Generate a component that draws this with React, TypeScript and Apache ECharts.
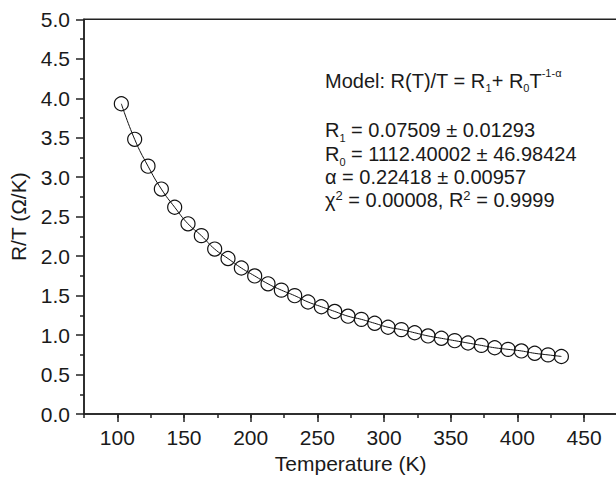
import React, { useEffect, useRef } from "react";
import * as echarts from "echarts";

const temperatures = [
  103, 113, 123, 133, 143, 153, 163, 173, 183, 193, 203, 213, 223, 233, 243, 253, 263,
  273, 283, 293, 303, 313, 323, 333, 343, 353, 363, 373, 383, 393, 403, 413, 423, 433,
];
const rOverT = [
  3.93, 3.48, 3.14, 2.85, 2.62, 2.41, 2.26, 2.09, 1.97, 1.85, 1.75, 1.65, 1.57, 1.5, 1.42,
  1.36, 1.3, 1.24, 1.2, 1.15, 1.1, 1.07, 1.03, 0.99, 0.96, 0.93, 0.9, 0.87, 0.84, 0.82,
  0.8, 0.77, 0.75, 0.73,
];
const xMajorTicks = [100, 150, 200, 250, 300, 350, 400, 450];
const annotationLines = [
  "Model: R(T)/T = R{sub|1}+ R{sub|0}T{sup|-1-α}",
  "R{sub|1} = 0.07509 ± 0.01293",
  "R{sub|0} = 1112.40002 ± 46.98424",
  "α = 0.22418 ± 0.00957",
  "χ{sup2|2} = 0.00008, R{sup2|2} = 0.9999",
];

const FONT = "'Liberation Sans', Arial, sans-serif";
const INK = "#1a1a1a";

export default function App() {
  const ref = useRef<HTMLDivElement>(null);
  useEffect(() => {
    if (!ref.current) return;
    const chart = echarts.init(ref.current, undefined, { renderer: "svg" });
    const data = temperatures.map((t, i) => [t, rOverT[i]]);
    const lineYs = [80.5, 130, 154, 177, 200];
    const lineHeights = [26, 26, 26, 20, 22];
    const rich = {
      sub: { fontSize: 11, lineHeight: 11, verticalAlign: "bottom", fontFamily: FONT, fill: INK },
      sup: { fontSize: 11, lineHeight: 11, verticalAlign: "top", fontFamily: FONT, fill: INK },
      sup2: { fontSize: 13, lineHeight: 13, verticalAlign: "top", fontFamily: FONT, fill: INK },
    };
    chart.setOption({
      animation: false,
      backgroundColor: "#ffffff",
      grid: {
        left: 82.7,
        right: 12.6,
        top: 19.3,
        bottom: 63.3,
        show: true,
        borderColor: "#222",
        borderWidth: 1.5,
      },
      xAxis: [
        {
          type: "value",
          min: 75,
          max: 475,
          interval: 25,
          name: "Temperature (K)",
          nameLocation: "middle",
          nameGap: 37,
          nameTextStyle: { fontSize: 21, fontFamily: FONT, color: INK },
          axisLine: { show: true, lineStyle: { color: "#222", width: 1.5 } },
          axisTick: { show: true, length: 4, lineStyle: { color: "#222", width: 1.5 } },
          axisLabel: {
            fontSize: 21,
            fontFamily: FONT,
            color: INK,
            margin: 13,
            formatter: (v: number) => (v % 50 === 0 && v >= 100 && v <= 450 ? String(v) : ""),
          },
          splitLine: { show: false },
        },
        {
          type: "value",
          min: 75,
          max: 475,
          position: "bottom",
          axisLine: { show: false },
          axisLabel: { show: false },
          axisTick: {
            show: true,
            length: 8,
            customValues: xMajorTicks,
            lineStyle: { color: "#222", width: 1.5 },
          },
          splitLine: { show: false },
        },
      ],
      yAxis: {
        type: "value",
        min: 0,
        max: 5,
        interval: 0.5,
        name: "R/T (Ω/K)",
        nameLocation: "middle",
        nameGap: 55,
        nameTextStyle: { fontSize: 21, fontFamily: FONT, color: INK },
        axisLine: { show: true, lineStyle: { color: "#222", width: 1.5 } },
        axisTick: { show: true, length: 8, lineStyle: { color: "#222", width: 1.5 } },
        minorTick: { show: true, splitNumber: 2, length: 4, lineStyle: { color: "#222", width: 1.5 } },
        axisLabel: {
          fontSize: 21,
          fontFamily: FONT,
          color: INK,
          margin: 14,
          formatter: (v: number) => v.toFixed(1),
        },
        splitLine: { show: false },
      },
      series: [
        {
          type: "line",
          xAxisIndex: 0,
          data,
          smooth: true,
          symbol: "circle",
          symbolSize: 14,
          lineStyle: { color: "#111", width: 1 },
          itemStyle: { color: "rgba(0,0,0,0)", borderColor: "#111", borderWidth: 1.2 },
        },
      ],
      graphic: annotationLines.map((txt, i) => ({
        type: "text",
        left: 325,
        top: lineYs[i] - lineHeights[i] / 2,
        style: {
          text: txt,
          fontSize: 20,
          lineHeight: lineHeights[i],
          fontFamily: FONT,
          fill: INK,
          rich,
        },
      })),
    });
    return () => chart.dispose();
  }, []);
  return (
    <div
      style={{
        position: "fixed",
        left: 0,
        top: 0,
        width: 616,
        height: 479,
        overflow: "hidden",
        background: "#fff",
      }}
    >
      <div ref={ref} style={{ width: 630, height: 479 }} />
    </div>
  );
}
